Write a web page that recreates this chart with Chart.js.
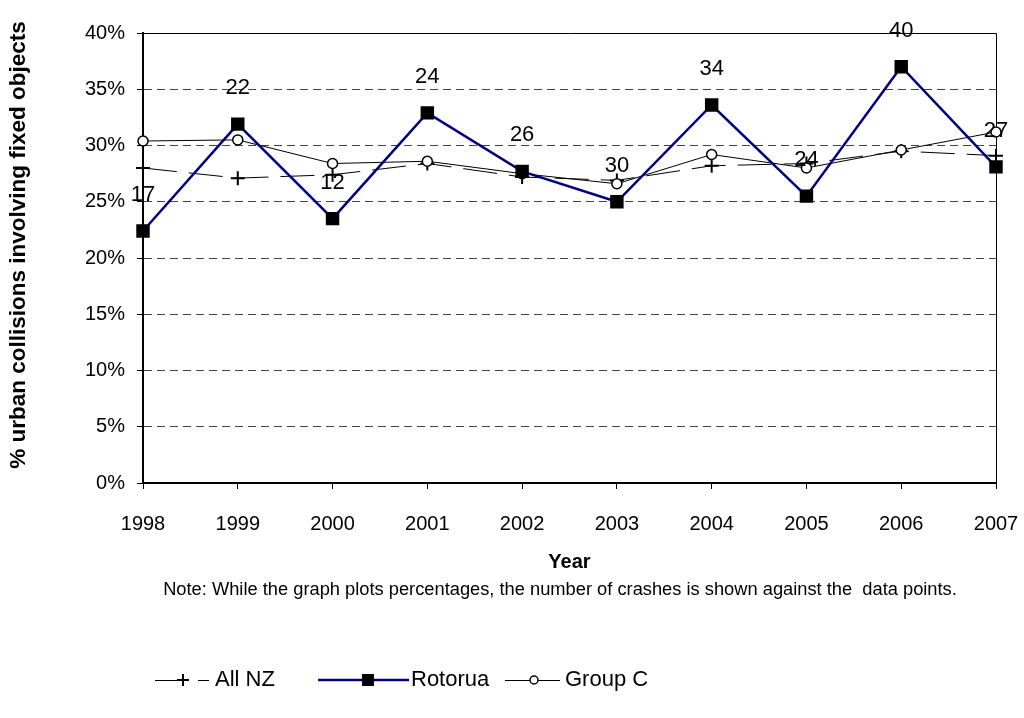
<!DOCTYPE html>
<html>
<head>
<meta charset="utf-8">
<title>Urban collisions involving fixed objects</title>
<script src="https://cdn.jsdelivr.net/npm/chart.js@4.4.1/dist/chart.umd.min.js"></script>
<style>
  html, body { margin: 0; padding: 0; background: #fff; }
  #chart { display: block; }
</style>
</head>
<body>
<canvas id="chart" width="1024" height="718"></canvas>
<script>
'use strict';

const YEARS     = ['1998', '1999', '2000', '2001', '2002', '2003', '2004', '2005', '2006', '2007'];
const ALL_NZ    = [28.0, 27.1, 27.4, 28.4, 27.2, 26.9, 28.2, 28.4, 29.5, 29.1];
const ROTORUA   = [22.4, 31.9, 23.5, 32.9, 27.7, 25.0, 33.6, 25.5, 37.0, 28.1];
const GROUP_C   = [30.4, 30.5, 28.4, 28.6, 27.5, 26.6, 29.2, 28.0, 29.6, 31.2];
// number of crashes written against each Rotorua point
const ROTORUA_CRASHES = [17, 22, 12, 24, 26, 30, 34, 24, 40, 27];
const Y_TICKS   = [0, 5, 10, 15, 20, 25, 30, 35, 40];

const FONT = '"Liberation Sans", Arial, sans-serif';
const NAVY = '#000080';

/* ── Extra drawing: frame, point labels, titles, note, legend ── */
const decorations = {
  id: 'decorations',
  beforeDatasetsDraw(chart) {
    const { ctx, chartArea: a } = chart;
    ctx.save();
    ctx.strokeStyle = '#000';
    ctx.lineWidth = 1;
    ctx.beginPath();
    ctx.moveTo(a.left, a.top + 0.5);
    ctx.lineTo(a.right + 0.5, a.top + 0.5);
    ctx.lineTo(a.right + 0.5, a.bottom);
    ctx.stroke();
    ctx.restore();
  },
  afterDatasetsDraw(chart) {
    const { ctx } = chart;
    const meta = chart.getDatasetMeta(1);
    ctx.save();
    ctx.fillStyle = '#000';
    ctx.font = '22px ' + FONT;
    ctx.textAlign = 'center';
    ctx.textBaseline = 'middle';
    meta.data.forEach((pt, i) => {
      ctx.fillText(String(ROTORUA_CRASHES[i]), pt.x, pt.y - 36);
    });
    ctx.restore();
  },
  afterDraw(chart) {
    const { ctx, chartArea: a } = chart;
    ctx.save();
    ctx.fillStyle = '#000';

    // y-axis title
    ctx.save();
    ctx.translate(19, 245);
    ctx.rotate(-Math.PI / 2);
    ctx.font = 'bold 22.5px ' + FONT;
    ctx.textAlign = 'center';
    ctx.textBaseline = 'middle';
    ctx.fillText('% urban collisions involving fixed objects', 0, 0);
    ctx.restore();

    // x-axis title and note
    const cx = (a.left + a.right) / 2;
    ctx.textAlign = 'center';
    ctx.textBaseline = 'middle';
    ctx.font = 'bold 20px ' + FONT;
    ctx.fillText('Year', cx, 562);
    ctx.font = '18.3px ' + FONT;
    ctx.fillText('Note: While the graph plots percentages, the number of crashes is shown against the  data points.', 560, 590);

    // legend
    const ly = 680;
    ctx.font = '22px ' + FONT;
    ctx.textAlign = 'left';

    // All NZ
    ctx.strokeStyle = '#000';
    ctx.lineWidth = 1;
    ctx.setLineDash([26, 17]);
    ctx.beginPath(); ctx.moveTo(155, ly + 0.5); ctx.lineTo(209, ly + 0.5); ctx.stroke();
    ctx.setLineDash([]);
    ctx.lineWidth = 2;
    ctx.beginPath();
    ctx.moveTo(177, ly); ctx.lineTo(189, ly);
    ctx.moveTo(183, ly - 6); ctx.lineTo(183, ly + 6);
    ctx.stroke();
    ctx.fillText('All NZ', 215, ly);

    // Rotorua
    ctx.strokeStyle = NAVY;
    ctx.lineWidth = 2.5;
    ctx.beginPath(); ctx.moveTo(318, ly); ctx.lineTo(409, ly); ctx.stroke();
    ctx.fillStyle = '#000';
    ctx.fillRect(362, ly - 6, 12, 12);
    ctx.fillText('Rotorua', 411, ly);

    // Group C
    ctx.strokeStyle = '#000';
    ctx.lineWidth = 1;
    ctx.beginPath(); ctx.moveTo(505, ly + 0.5); ctx.lineTo(560, ly + 0.5); ctx.stroke();
    ctx.fillStyle = '#fff';
    ctx.lineWidth = 1.5;
    ctx.beginPath(); ctx.arc(534, ly, 4, 0, Math.PI * 2); ctx.fill(); ctx.stroke();
    ctx.fillStyle = '#000';
    ctx.fillText('Group C', 565, ly);

    ctx.restore();
  }
};

new Chart(document.getElementById('chart'), {
  type: 'line',
  data: {
    labels: YEARS,
    datasets: [
      {
        label: 'All NZ',
        data: ALL_NZ,
        borderColor: '#000',
        borderWidth: 1,
        borderDash: [34, 12],
        pointStyle: 'cross',
        pointRadius: 7,
        pointBorderWidth: 2,
        pointBorderColor: '#000',
        tension: 0,
        order: 2,
      },
      {
        label: 'Rotorua',
        data: ROTORUA,
        borderColor: NAVY,
        borderWidth: 2.5,
        pointStyle: 'rect',
        pointRadius: 9.5,
        pointBackgroundColor: '#000',
        pointBorderColor: '#000',
        pointBorderWidth: 0,
        tension: 0,
        order: 0,
      },
      {
        label: 'Group C',
        data: GROUP_C,
        borderColor: '#000',
        borderWidth: 1,
        pointStyle: 'circle',
        pointRadius: 5,
        pointBackgroundColor: '#fff',
        pointBorderColor: '#000',
        pointBorderWidth: 1.5,
        tension: 0,
        order: 1,
      }
    ]
  },
  options: {
    responsive: false,
    animation: false,
    layout: { padding: { top: 33, right: 28, left: 0, bottom: 0 } },
    plugins: {
      legend: { display: false },
      tooltip: { enabled: false },
      title: { display: false }
    },
    scales: {
      x: {
        offset: false,
        afterFit: s => { s.height = 235; s.paddingLeft = 0; s.paddingRight = 0; },
        grid: { drawOnChartArea: false, drawTicks: true, tickLength: 6, color: '#000' },
        border: { color: '#000', width: 2 },
        ticks: { color: '#000', padding: 23, maxRotation: 0, font: { family: FONT, size: 20 } }
      },
      y: {
        min: 0,
        max: 40,
        afterFit: s => { s.width = 143; s.paddingTop = 0; s.paddingBottom = 0; },
        afterBuildTicks: s => { s.ticks = Y_TICKS.map(v => ({ value: v })); },
        grid: { color: '#444', lineWidth: 1, tickLength: 6, tickColor: '#000', tickBorderDash: [] },
        border: { color: '#000', width: 2, dash: [8, 5] },
        ticks: {
          color: '#000',
          padding: 12,
          font: { family: FONT, size: 20 },
          callback: v => v + '%'
        }
      }
    }
  },
  plugins: [decorations]
});
</script>
</body>
</html>
